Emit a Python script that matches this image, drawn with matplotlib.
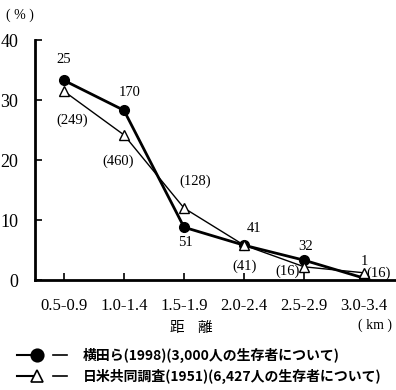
import matplotlib
matplotlib.use('Agg')
import matplotlib.pyplot as plt

plt.rcParams['font.family'] = ['Liberation Serif', 'Noto Sans CJK JP']

categories = ['0.5-0.9', '1.0-1.4', '1.5-1.9', '2.0-2.4', '2.5-2.9', '3.0-3.4']
yokota = [33.3, 28.3, 8.8, 5.8, 3.3, 0.3]
yokota_n = ['25', '170', '51', '41', '32', '1']
joint = [31.5, 24.2, 12.0, 5.8, 2.2, 1.2]
joint_n = ['(249)', '(460)', '(128)', '(41)', '(16)', '(16)']

# label offsets in points (dx, dy)
yokota_off = [(0, 15), (4, 13), (1, -11), (7, 12), (1, 10), (0, 12)]
joint_off = [(6, -21), (-4, -19), (8, 19), (0, -15), (-12, -3), (10, 0)]

fig = plt.figure(figsize=(3.96, 3.9), dpi=100)
ax = fig.add_axes([0.0884, 0.282, 0.912, 0.615])
x = range(len(categories))

ax.plot(x, yokota, c='black', lw=2, marker='o', ms=7, zorder=3)
ax.plot(x, joint, c='black', lw=1, marker='^', ms=7, mfc='white', mew=1, zorder=4)

for i in x:
    ax.annotate(yokota_n[i], (i, yokota[i]), xytext=yokota_off[i],
                textcoords='offset points', ha='center', va='center', fontsize=10.5)
    ax.annotate(joint_n[i], (i, joint[i]), xytext=joint_off[i],
                textcoords='offset points', ha='center', va='center', fontsize=10.5)

ax.set_xlim(-0.48, 5.53)
ax.set_ylim(0, 40)
ax.set_xticks(list(x))
ax.set_xticklabels(categories, fontsize=12)
ax.set_yticks([0, 10, 20, 30, 40])
ax.tick_params(direction='in', length=5, width=1.2)
ax.tick_params(axis='y', labelsize=13, pad=12)
ax.tick_params(axis='x', pad=13)
for s in ['top', 'right']:
    ax.spines[s].set_visible(False)
ax.spines['left'].set_linewidth(2)
ax.spines['bottom'].set_linewidth(2)

fig.text(20 / 396, 1 - 15 / 390, '( % )', ha='center', va='center', fontsize=10)
fig.text(177 / 396, 1 - 328 / 390, '距', ha='center', va='center',
         fontsize=10.5, family=['Noto Sans CJK JP'])
fig.text(205 / 396, 1 - 328 / 390, '離', ha='center', va='center',
         fontsize=10.5, family=['Noto Sans CJK JP'])
fig.text(375 / 396, 1 - 325 / 390, '( km )', ha='center', va='center', fontsize=10)

# legend drawn by hand as in the original
leg = [('o', 'black', '横田ら(1998)(3,000人の生存者について)', 2),
       ('^', 'white', '日米共同調査(1951)(6,427人の生存者について)', 1)]
for k, (m, fc, txt, lw) in enumerate(leg):
    yy = 1 - (355 + 21 * k) / 390
    fig.add_artist(plt.Line2D([17 / 396, 34 / 396], [yy, yy], c='black', lw=1.5))
    fig.add_artist(plt.Line2D([37 / 396], [yy], marker=m, mfc=fc, mec='black',
                              ms=9, mew=1.2))
    fig.add_artist(plt.Line2D([53 / 396, 67 / 396], [yy, yy], c='black', lw=1.2))
    fig.text(83 / 396, yy, txt, ha='left', va='center', fontsize=10,
             fontweight='bold', family=['Noto Sans CJK JP'])

fig.savefig('out.png', dpi=100)
